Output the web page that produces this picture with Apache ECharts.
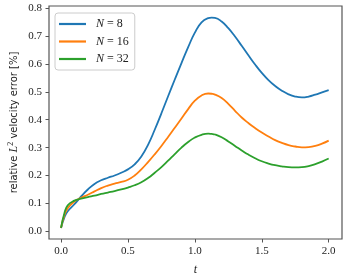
<!DOCTYPE html>
<html><head><meta charset="utf-8">
<script src="https://cdn.jsdelivr.net/npm/echarts@6/dist/echarts.min.js"></script>
<style>html,body{margin:0;padding:0;background:#fff}#c{width:350px;height:280px}</style>
</head><body><div id="c"></div>
<script>
const tValues = [0,0.025,0.05,0.1,0.15,0.2,0.25,0.3,0.35,0.4,0.45,0.5,0.55,0.6,0.65,0.7,0.75,0.8,0.85,0.9,0.95,1.0,1.05,1.1,1.125,1.15,1.2,1.25,1.3,1.35,1.4,1.45,1.5,1.55,1.6,1.65,1.7,1.75,1.8,1.85,1.9,1.95,2.0];
const errN8 = [0.012,0.05,0.072,0.097,0.125,0.15,0.17,0.183,0.192,0.2,0.21,0.222,0.24,0.268,0.31,0.364,0.423,0.484,0.544,0.603,0.66,0.712,0.749,0.764,0.766,0.765,0.752,0.728,0.698,0.665,0.631,0.598,0.568,0.542,0.521,0.504,0.491,0.483,0.48,0.483,0.49,0.498,0.506];
const errN16 = [0.012,0.058,0.083,0.107,0.12,0.131,0.143,0.155,0.164,0.171,0.177,0.185,0.2,0.222,0.248,0.276,0.306,0.338,0.371,0.404,0.438,0.468,0.487,0.494,0.493,0.49,0.478,0.457,0.432,0.408,0.388,0.37,0.354,0.34,0.327,0.317,0.309,0.304,0.301,0.302,0.306,0.314,0.325];
const errN32 = [0.012,0.065,0.093,0.11,0.117,0.123,0.128,0.134,0.139,0.144,0.15,0.157,0.165,0.176,0.191,0.21,0.23,0.253,0.277,0.3,0.32,0.336,0.346,0.35,0.349,0.347,0.337,0.322,0.306,0.29,0.275,0.262,0.251,0.243,0.237,0.233,0.23,0.229,0.23,0.234,0.241,0.25,0.261];
const seriesNames = ['N = 8','N = 16','N = 32'];
const xTicks = [0,0.5,1.0,1.5,2.0];
const yTicks = [0,0.1,0.2,0.3,0.4,0.5,0.6,0.7,0.8];
const colors = ['#1f77b4','#ff7f0e','#2ca02c'];

const allSeries = [errN8, errN16, errN32];
const serif = 'Liberation Serif';
const chart = echarts.init(document.getElementById('c'), null, {renderer:'canvas'});
chart.setOption({
  animation:false,
  grid:{left:49,right:8,top:6,bottom:41,show:true,borderColor:'#555',borderWidth:1.2,backgroundColor:'transparent',
    containLabel:false, outerBoundsMode:'none'},
  legend:{
    orient:'vertical', left:55, top:13,
    padding:[5,6,5,4],
    backgroundColor:'#fff', borderColor:'#ccc', borderWidth:1, borderRadius:3,
    itemWidth:27, itemHeight:2.2, itemGap:5.5, icon:'rect',
    data:seriesNames,
    formatter:function(n){return '{i|N} = ' + n.split('= ')[1];},
    textStyle:{fontFamily:serif,fontSize:12,color:'#222',lineHeight:12,padding:[0,0,0,5],
      rich:{i:{fontFamily:serif,fontStyle:'italic',fontSize:12,color:'#222'}}}
  },
  xAxis:{
    type:'value', min:-0.09, max:2.0995,
    name:'t', nameLocation:'middle', nameGap:25, nameMoveOverlap:false,
    nameTextStyle:{fontFamily:serif,fontStyle:'italic',fontSize:12,color:'#222'},
    axisLine:{show:false,onZero:false},
    axisTick:{show:true,length:3.5,lineStyle:{color:'#555'},customValues:xTicks},
    axisLabel:{fontFamily:serif,fontSize:11,color:'#222',margin:7,customValues:xTicks,
      formatter:function(v){return v.toFixed(1);}},
    splitLine:{show:false}
  },
  yAxis:{
    type:'value', min:-0.0275, max:0.8075,
    name:'relative {i|L}{s|2} velocity error [%]', nameLocation:'middle', nameGap:28, nameRotate:90, nameMoveOverlap:false,
    nameTextStyle:{fontFamily:'DejaVu Sans',fontSize:10,color:'#222',
      rich:{i:{fontFamily:serif,fontStyle:'italic',fontSize:12,color:'#222'},
            s:{fontFamily:serif,fontSize:8,color:'#222',verticalAlign:'top',padding:[0,0,6,0]}}},
    axisLine:{show:false,onZero:false},
    axisTick:{show:true,length:3.5,lineStyle:{color:'#555'},customValues:yTicks},
    axisLabel:{fontFamily:serif,fontSize:11,color:'#222',margin:7,customValues:yTicks,
      formatter:function(v){return v.toFixed(1);}},
    splitLine:{show:false}
  },
  series: seriesNames.map(function(n,k){
    return {name:n,type:'line',showSymbol:false,symbol:'none',smooth:0.5,
      lineStyle:{width:1.8,color:colors[k]},itemStyle:{color:colors[k]},
      data:tValues.map(function(t,i){return [t, allSeries[k][i]];})};
  })
});
</script></body></html>
